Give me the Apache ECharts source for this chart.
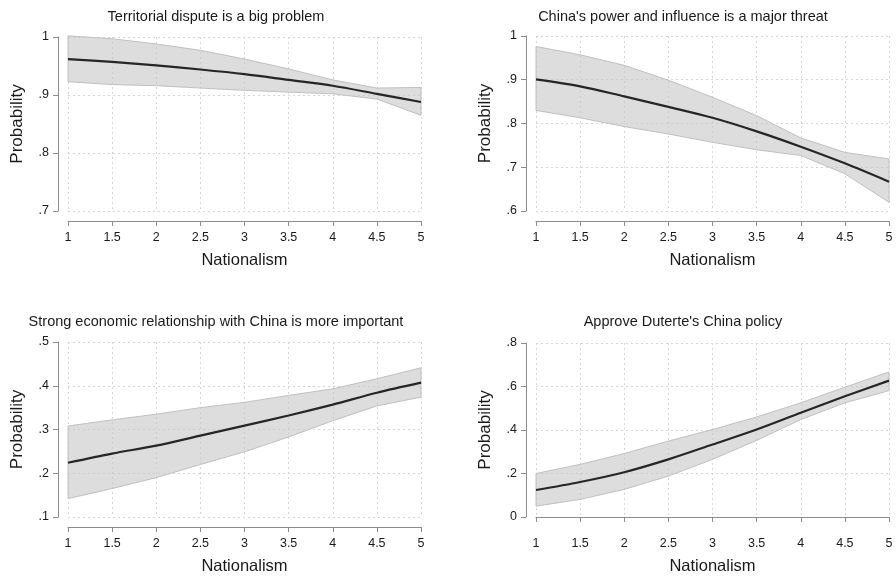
<!DOCTYPE html>
<html>
<head>
<meta charset="utf-8">
<script src="https://cdn.jsdelivr.net/npm/echarts@6/dist/echarts.min.js"></script>
<style>
html,body{margin:0;padding:0;background:#fff;}
#main{width:896px;height:576px;}
</style>
</head>
<body>
<div id="main"></div>
<script>
// Data
const nationalism = [1, 1.5, 2, 2.5, 3, 3.5, 4, 4.5, 5];
const titles = [
  "Territorial dispute is a big problem",
  "China's power and influence is a major threat",
  "Strong economic relationship with China is more important",
  "Approve Duterte's China policy"
];
// Panel 1
const p1Mean  = [0.962, 0.957, 0.951, 0.944, 0.936, 0.926, 0.916, 0.902, 0.888];
const p1Upper = [1.002, 0.997, 0.988, 0.977, 0.962, 0.945, 0.926, 0.912, 0.913];
const p1Lower = [0.923, 0.918, 0.916, 0.912, 0.908, 0.905, 0.902, 0.893, 0.865];
// Panel 2
const p2Mean  = [0.901, 0.885, 0.862, 0.838, 0.813, 0.782, 0.747, 0.709, 0.667];
const p2Upper = [0.976, 0.957, 0.933, 0.899, 0.860, 0.818, 0.767, 0.734, 0.719];
const p2Lower = [0.830, 0.813, 0.793, 0.776, 0.757, 0.740, 0.727, 0.685, 0.620];
// Panel 3
const p3Mean  = [0.224, 0.245, 0.263, 0.286, 0.309, 0.332, 0.357, 0.384, 0.407];
const p3Upper = [0.308, 0.322, 0.335, 0.350, 0.362, 0.378, 0.393, 0.416, 0.441];
const p3Lower = [0.142, 0.165, 0.190, 0.220, 0.249, 0.283, 0.320, 0.354, 0.374];
// Panel 4
const p4Mean  = [0.124, 0.161, 0.206, 0.265, 0.333, 0.402, 0.479, 0.555, 0.627];
const p4Upper = [0.200, 0.242, 0.292, 0.349, 0.402, 0.460, 0.525, 0.597, 0.667];
const p4Lower = [0.050, 0.081, 0.127, 0.188, 0.265, 0.352, 0.448, 0.525, 0.581];
// Axis ranges
const yRanges = [
  {min: 0.7, max: 1.0, interval: 0.1},
  {min: 0.6, max: 1.0, interval: 0.1},
  {min: 0.1, max: 0.5, interval: 0.1},
  {min: 0.0, max: 0.8, interval: 0.2}
];
const xTicks = {min: 1, max: 5, interval: 0.5};
const xName = "Nationalism";
const yName = "Probability";

const panels = [
  {mean: p1Mean, upper: p1Upper, lower: p1Lower},
  {mean: p2Mean, upper: p2Upper, lower: p2Lower},
  {mean: p3Mean, upper: p3Upper, lower: p3Lower},
  {mean: p4Mean, upper: p4Upper, lower: p4Lower}
];

const layout = [
  {left: 68,  top: 37,  width: 353, height: 174, tx: 211, ty: 4},
  {left: 536, top: 36,  width: 353, height: 175, tx: 678, ty: 4},
  {left: 68,  top: 342, width: 353, height: 175, tx: 211, ty: 309},
  {left: 536, top: 343, width: 353, height: 174, tx: 678, ty: 309}
];

const FONT = "'Liberation Sans', Arial, Helvetica, sans-serif";
const axisColor = '#8c8c8c';
const gridColor = '#d6d6d6';
const fmtY = v => {
  const n = Number(v.toFixed(2));
  if (n === 0) return '0';
  if (n === 1) return '1';
  return String(n).replace(/^0\./, '.');
};

const option = {
  backgroundColor: '#fff',
  animation: false,
  title: layout.map((l, i) => ({
    text: titles[i], left: l.tx, top: l.ty, textAlign: 'center',
    textStyle: {fontFamily: FONT, fontSize: 14.5, fontWeight: 'normal', color: '#1a1a1a'}
  })),
  grid: layout.map(l => ({left: l.left, top: l.top, width: l.width, height: l.height, containLabel: false})),
  xAxis: layout.map((l, i) => ({
    type: 'value', gridIndex: i, min: xTicks.min, max: xTicks.max, interval: xTicks.interval,
    offset: 10,
    name: xName, nameLocation: 'middle', nameGap: 31,
    nameTextStyle: {fontFamily: FONT, fontSize: 16.5, color: '#1a1a1a'},
    axisLine: {show: true, lineStyle: {color: axisColor, width: 1}},
    axisTick: {show: true, length: 5, lineStyle: {color: axisColor}},
    axisLabel: {fontFamily: FONT, fontSize: 12.5, color: '#1a1a1a', margin: 10,
      formatter: v => String(Number(v.toFixed(2)))},
    splitLine: {show: true, lineStyle: {color: gridColor, type: [2, 3], width: 1}}
  })),
  yAxis: layout.map((l, i) => ({
    type: 'value', gridIndex: i, min: yRanges[i].min, max: yRanges[i].max, interval: yRanges[i].interval,
    offset: 10,
    name: yName, nameLocation: 'middle', nameGap: 32, nameRotate: 90,
    nameTextStyle: {fontFamily: FONT, fontSize: 17, color: '#1a1a1a'},
    axisLine: {show: true, lineStyle: {color: axisColor, width: 1}},
    axisTick: {show: true, length: 5, lineStyle: {color: axisColor}},
    axisLabel: {fontFamily: FONT, fontSize: 12.5, color: '#1a1a1a', margin: 9, formatter: fmtY},
    splitLine: {show: true, lineStyle: {color: gridColor, type: [2, 3], width: 1}}
  })),
  series: []
};

panels.forEach((p, i) => {
  // confidence band as one polygon, through the axis scales
  option.series.push({
    type: 'custom', xAxisIndex: i, yAxisIndex: i,
    data: nationalism.map((x, k) => [x, p.lower[k], p.upper[k]]),
    encode: {x: 0, y: [1, 2]},
    renderItem: (params, api) => {
      if (params.dataIndex !== 0) return null;
      const pts = [];
      for (let k = 0; k < nationalism.length; k++) pts.push(api.coord([nationalism[k], p.upper[k]]));
      for (let k = nationalism.length - 1; k >= 0; k--) pts.push(api.coord([nationalism[k], p.lower[k]]));
      return {
        type: 'polygon',
        shape: {points: pts},
        style: {fill: 'rgba(200,200,200,0.62)', stroke: '#c0c0c0', lineWidth: 1}
      };
    },
    z: 2, silent: true
  });
  option.series.push({
    type: 'line', xAxisIndex: i, yAxisIndex: i,
    data: nationalism.map((x, k) => [x, p.mean[k]]),
    showSymbol: false, symbol: 'none', smooth: 0.3,
    lineStyle: {color: '#262626', width: 2.2},
    z: 3
  });
});

const chart = echarts.init(document.getElementById('main'), null, {renderer: 'canvas'});
chart.setOption(option);
</script>
</body>
</html>
